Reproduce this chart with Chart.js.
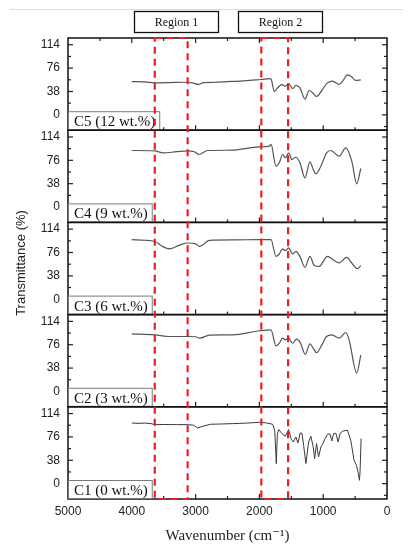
<!DOCTYPE html>
<html>
<head>
<meta charset="utf-8">
<script src="https://cdn.jsdelivr.net/npm/chart.js@4.4.1/dist/chart.umd.min.js"></script>
<style>
  html, body { margin: 0; padding: 0; background: #fff; }
  canvas { display: block; }
</style>
</head>
<body>
<canvas id="c" width="410" height="550"></canvas>
<script>
// ---- data (wavenumber cm^-1, transmittance %) ----
const c5Wn = [4000, 3800, 3640, 3400, 3200, 3050, 2950, 2880, 2700, 2500, 2300, 2100, 1970, 1830, 1815, 1766, 1714, 1646, 1594, 1542, 1479, 1427, 1365, 1286, 1219, 1167, 1104, 1010, 933, 854, 750, 687, 620, 552, 490, 411];
const c5T  = [54, 53.5, 52, 52.5, 53, 52, 49.5, 52.5, 53, 54, 55, 56.5, 57.5, 59, 58, 38, 44, 49, 46.5, 51, 42.5, 48, 44, 25.5, 40, 36, 30, 41.5, 52, 55, 49.5, 56, 65, 61.5, 56, 57];

const c4Wn = [4000, 3640, 3510, 3300, 3125, 3020, 2948, 2812, 2422, 2156, 2000, 1844, 1818, 1740, 1688, 1635, 1594, 1542, 1490, 1427, 1365, 1286, 1208, 1156, 1115, 1036, 948, 880, 750, 646, 552, 474, 411];
const c4T  = [92, 91.5, 88, 90, 91.5, 90, 85.5, 92, 92.5, 96.4, 98, 99, 101.8, 66.5, 72, 85.5, 80, 88, 77.4, 81, 72, 47.5, 73.6, 61, 54, 66.5, 88, 92, 82.7, 96.4, 74.6, 37.8, 62.7];

const c3Wn = [4000, 3800, 3640, 3520, 3406, 3250, 3125, 3000, 2937, 2781, 2400, 2000, 1818, 1740, 1688, 1635, 1594, 1542, 1479, 1427, 1365, 1286, 1208, 1140, 1063, 933, 844, 750, 635, 541, 463, 411];
const c3T  = [97, 96, 94, 86, 82, 88, 91.5, 90, 86, 95.8, 96.5, 97, 97, 69.7, 73.6, 82, 79, 83.4, 73.6, 77.9, 69.7, 51.8, 69.7, 55, 53.4, 69.7, 64.3, 59, 68, 57.3, 49.7, 54.6];

const c2Wn = [4000, 3640, 3406, 3125, 3000, 2937, 2781, 2422, 2000, 1818, 1740, 1688, 1635, 1594, 1542, 1479, 1417, 1360, 1281, 1208, 1156, 1104, 1021, 948, 865, 750, 646, 594, 474, 411];
const c2T  = [93.7, 92, 89.4, 89.4, 89, 86.6, 91.6, 92, 98.7, 100.3, 74, 78.4, 86.6, 83.9, 86.6, 78.4, 85, 79.5, 60.4, 77.3, 70.2, 63, 75.7, 89.3, 92, 86.6, 95.9, 83.9, 30, 59.2];

const c1Wn = [4000, 3900, 3800, 3700, 3640, 3500, 3300, 3125, 3030, 2973, 2900, 2766, 2600, 2400, 2200, 2000, 1900, 1792, 1760, 1735, 1719, 1698, 1646, 1594, 1542, 1505, 1469, 1427, 1396, 1360, 1333, 1307, 1271, 1229, 1193, 1156, 1135, 1104, 1073, 1036, 1010, 969, 933, 896, 865, 839, 802, 766, 734, 687, 620, 568, 516, 479, 448, 432, 422, 406];
const c1T  = [98.7, 98, 98.5, 97.7, 96, 96.2, 96, 96, 95, 90.6, 93, 96.6, 97, 97.7, 98.5, 99.8, 99, 96.6, 86.8, 32.6, 80, 88, 81.4, 77, 88, 73.3, 67.8, 75.9, 66.1, 82.4, 82, 62.4, 32.6, 67.8, 77, 59.6, 40.7, 65.1, 43.3, 59.6, 64, 73.3, 80.3, 81, 69.4, 81, 82, 67.8, 82, 85.7, 86.8, 70.5, 37.9, 29.8, 16.3, 5.4, 20, 73.3];

const sampleLabels = ['C5 (12 wt.%)', 'C4 (9 wt.%)', 'C3 (6 wt.%)', 'C2 (3 wt.%)', 'C1 (0 wt.%)'];
const yTickValues = [0, 38, 76, 114];
const yMinorValues = [-19, 19, 57, 95];
const xMajorValues = [1000, 2000, 3000, 4000];
const xMinorValues = [500, 1500, 2500, 3500, 4500];
const regionNames = ['Region 1', 'Region 2'];
const regionBounds = [[3640, 3125], [1970, 1550]];

// ---- chart ----
const series = [
  {id: 'yC5', wn: c5Wn, t: c5T},
  {id: 'yC4', wn: c4Wn, t: c4T},
  {id: 'yC3', wn: c3Wn, t: c3T},
  {id: 'yC2', wn: c2Wn, t: c2T},
  {id: 'yC1', wn: c1Wn, t: c1T}
];

const sans = "'Liberation Sans', Arial, sans-serif";
const tickFont = {family: sans, size: 12};
const serif = "'Liberation Serif', 'DejaVu Serif', serif";

function yScale(weight) {
  return {
    type: 'linear',
    position: 'left',
    stack: 'panels',
    stackWeight: 1,
    weight: weight,
    min: -25,
    max: 125,
    grid: {display: false, drawTicks: false},
    border: {display: false},
    ticks: {font: tickFont, color: '#222', padding: 8, autoSkip: false, callback: v => String(v)},
    afterBuildTicks: s => { s.ticks = yTickValues.map(v => ({value: v})); },
    afterFit: s => { s.width = 68; }
  };
}

const scales = {
  x: {
    type: 'linear',
    position: 'bottom',
    min: 0, max: 5000,
    reverse: true,
    grid: {display: false, drawTicks: false},
    border: {display: false},
    ticks: {stepSize: 1000, autoSkip: false, maxRotation: 0, padding: 5, font: tickFont, color: '#222', callback: v => String(v)},
    title: {display: true, text: 'Wavenumber (cm\u207B\u00B9)', font: {family: serif, size: 15}, color: '#222', padding: {top: 0, bottom: 5}},
    afterFit: s => { s.height = 51; }
  }
};
series.forEach((s, i) => { scales[s.id] = yScale(5 - i); });

const datasets = series.map((s, i) => ({
  data: s.wn.map((w, k) => ({x: w, y: s.t[k]})),
  yAxisID: s.id,
  borderColor: i === 4 ? '#3a3a3a' : '#555',
  borderWidth: i === 4 ? 1 : 1.2,
  pointRadius: 0,
  fill: false,
  tension: i === 4 ? 0 : 0.4,
  cubicInterpolationMode: i === 4 ? 'default' : 'monotone'
}));

function seg(ctx, x1, y1, x2, y2) {
  ctx.beginPath(); ctx.moveTo(x1, y1); ctx.lineTo(x2, y2); ctx.stroke();
}

const decor = {
  id: 'decor',
  afterDatasetsDraw(chart) {
    const ctx = chart.ctx;
    const xs = chart.scales.x;
    const L = chart.chartArea.left, R = chart.chartArea.right;
    ctx.save();
    // faint rule at very top
    ctx.strokeStyle = '#dcdcdc'; ctx.lineWidth = 1;
    seg(ctx, 10, 9.5, 403, 9.5);

    series.forEach((s, i) => {
      const sc = chart.scales[s.id];
      const T = sc.top, B = sc.bottom;
      ctx.strokeStyle = '#222'; ctx.lineWidth = 1.2; ctx.setLineDash([]);
      yTickValues.forEach(v => { const y = sc.getPixelForValue(v); seg(ctx, L, y, L + 5, y); seg(ctx, R, y, R - 5, y); });
      yMinorValues.forEach(v => { const y = sc.getPixelForValue(v); seg(ctx, L, y, L + 3, y); seg(ctx, R, y, R - 3, y); });
      xMajorValues.forEach(w => { const x = xs.getPixelForValue(w); seg(ctx, x, B, x, B - 5); if (i === 0) seg(ctx, x, T, x, T + 5); });
      xMinorValues.forEach(w => { const x = xs.getPixelForValue(w); seg(ctx, x, B, x, B - 3); if (i === 0) seg(ctx, x, T, x, T + 3); });
      ctx.strokeStyle = '#111'; ctx.lineWidth = 1.5;
      ctx.strokeRect(L, T, R - L, B - T);
      // sample label box
      ctx.font = '15px ' + serif;
      const tw = ctx.measureText(sampleLabels[i]).width;
      ctx.fillStyle = '#fff';
      ctx.fillRect(L + 1, B - 18, tw + 9, 17);
      ctx.strokeStyle = '#7a7a7a'; ctx.lineWidth = 1;
      ctx.strokeRect(L + 0.5, B - 18.5, tw + 10, 18);
      ctx.fillStyle = '#111'; ctx.textAlign = 'left'; ctx.textBaseline = 'alphabetic';
      ctx.fillText(sampleLabels[i], L + 6, B - 4);
    });

    // red dashed regions
    const topS = chart.scales[series[0].id], botS = chart.scales[series[4].id];
    ctx.strokeStyle = '#ee1d23'; ctx.lineWidth = 2.2; ctx.setLineDash([7, 5]);
    regionBounds.forEach(b => {
      const x1 = xs.getPixelForValue(b[0]), x2 = xs.getPixelForValue(b[1]);
      ctx.strokeRect(x1, topS.top, x2 - x1, botS.bottom - topS.top);
    });
    ctx.setLineDash([]);

    // region label boxes
    const boxes = [[134, 218], [238, 322]];
    ctx.font = '12px ' + serif; ctx.textAlign = 'center'; ctx.textBaseline = 'middle';
    boxes.forEach((bx, k) => {
      ctx.strokeStyle = '#111'; ctx.lineWidth = 1.3;
      ctx.strokeRect(bx[0] + 0.5, 11.5, bx[1] - bx[0], 21);
      ctx.fillStyle = '#111';
      ctx.fillText(regionNames[k], (bx[0] + bx[1]) / 2 + 0.5, 22.5);
    });

    // y title
    ctx.translate(21.5, 263);
    ctx.rotate(-Math.PI / 2);
    ctx.font = '13px ' + sans; ctx.fillStyle = '#222';
    ctx.textAlign = 'center'; ctx.textBaseline = 'middle';
    ctx.fillText('Transmittance (%)', 0, 0);
    ctx.restore();
  }
};

new Chart(document.getElementById('c'), {
  type: 'line',
  data: {datasets},
  options: {
    responsive: false,
    animation: false,
    layout: {padding: {top: 38, right: 23, bottom: 0, left: 0}},
    plugins: {legend: {display: false}, tooltip: {enabled: false}},
    scales
  },
  plugins: [decor]
});
</script>
</body>
</html>
